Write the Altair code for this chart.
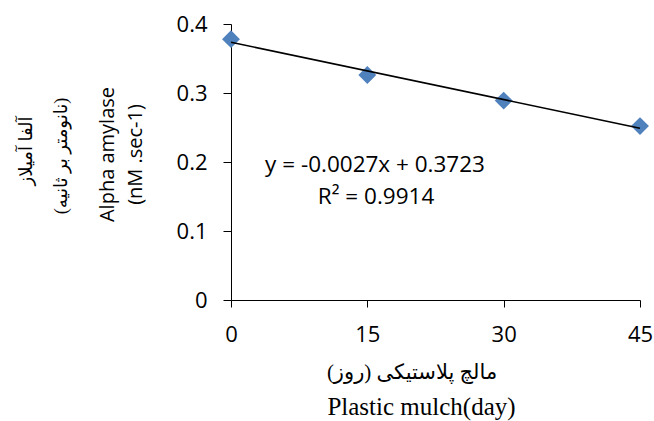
import altair as alt
import pandas as pd

days = [0, 15, 30, 45]
amylase = [0.378, 0.326, 0.289, 0.252]
x_ticks = [0, 15, 30, 45]
y_ticks = [0, 0.1, 0.2, 0.3, 0.4]
equation = ["y = -0.0027x + 0.3723"]
r_squared = ["R\u00b2 = 0.9914"]
RLM = "\u200f"
y_title_en = ["Alpha amylase", "(nM .sec-1)"]
y_title_fa_1 = [RLM + "آلفا آمیلاز" + RLM]
y_title_fa_2 = [RLM + "(نانومتر بر ثانیه)" + RLM]
x_title_fa = [RLM + "مالچ پلاستیکی (روز)" + RLM]
x_title_en = "Plastic mulch(day)"

SANS = "Open Sans"
SERIF = "Liberation Serif, Times New Roman, DejaVu Sans"

df = pd.DataFrame({"day": days, "amylase": amylase})

x_enc = alt.X(
    "day:Q",
    scale=alt.Scale(domain=[0, 45], nice=False, zero=False),
    axis=alt.Axis(
        values=x_ticks,
        title=x_title_en,
        titleFont=SERIF,
        titleFontSize=25,
        titleFontWeight="normal",
        titleBaseline="alphabetic",
        titleX=190,
        titleY=114,
        labelFont=SANS,
        labelFontSize=22,
        labelPadding=17,
        tickSize=7,
        labelFlush=False,
    ),
)
y_enc = alt.Y(
    "amylase:Q",
    scale=alt.Scale(domain=[0, 0.4], nice=False),
    axis=alt.Axis(
        values=y_ticks,
        format="~g",
        title=y_title_en,
        titleFont=SANS,
        titleFontSize=20,
        titleFontWeight="normal",
        titleLineHeight=28,
        titleAngle=270,
        titleBaseline="alphabetic",
        titleAlign="center",
        titleX=-118,
        titleY=130,
        labelFont=SANS,
        labelFontSize=22,
        labelPadding=16,
        tickSize=8,
        labelFlush=False,
    ),
)

points = alt.Chart(df).mark_point(
    shape="diamond", filled=True, size=320, color="#4F81BD", opacity=1
).encode(x=x_enc, y=y_enc)

trend = (
    alt.Chart(df)
    .transform_regression("day", "amylase", extent=[0, 45])
    .mark_line(color="black", strokeWidth=1.5)
    .encode(x="day:Q", y="amylase:Q")
)

eq1 = alt.Chart(pd.DataFrame({"t": equation})).mark_text(
    font=SANS, fontSize=22.5, color="black", align="center", baseline="middle"
).encode(text="t:N", x=alt.value(144), y=alt.value(141))

eq2 = alt.Chart(pd.DataFrame({"t": r_squared})).mark_text(
    font=SANS, fontSize=22.5, color="black", align="center", baseline="middle"
).encode(text="t:N", x=alt.value(145), y=alt.value(173))

fa1 = alt.Chart(pd.DataFrame({"t": y_title_fa_1})).mark_text(
    font=SERIF, fontSize=18, color="black", align="center", baseline="middle", angle=270
).encode(text="t:N", x=alt.value(-204), y=alt.value(127))

fa2 = alt.Chart(pd.DataFrame({"t": y_title_fa_2})).mark_text(
    font=SERIF, fontSize=18, color="black", align="center", baseline="middle", angle=270
).encode(text="t:N", x=alt.value(-169), y=alt.value(132))

fa3 = alt.Chart(pd.DataFrame({"t": x_title_fa})).mark_text(
    font=SERIF, fontSize=21, color="black", align="center", baseline="middle"
).encode(text="t:N", x=alt.value(181), y=alt.value(349))

chart = (
    alt.layer(points, trend, eq1, eq2, fa1, fa2, fa3)
    .properties(
        width=409,
        height=276,
        autosize="none",
        padding={"left": 231, "top": 24, "right": 14, "bottom": 121},
        background="white",
    )
    .configure_view(stroke=None)
    .configure_axis(
        grid=False,
        domainColor="black",
        tickColor="black",
        labelColor="black",
        titleColor="black",
        domainWidth=1,
        tickWidth=1,
    )
)

chart.save("out.html", embed_options={"renderer": "svg", "actions": False})
